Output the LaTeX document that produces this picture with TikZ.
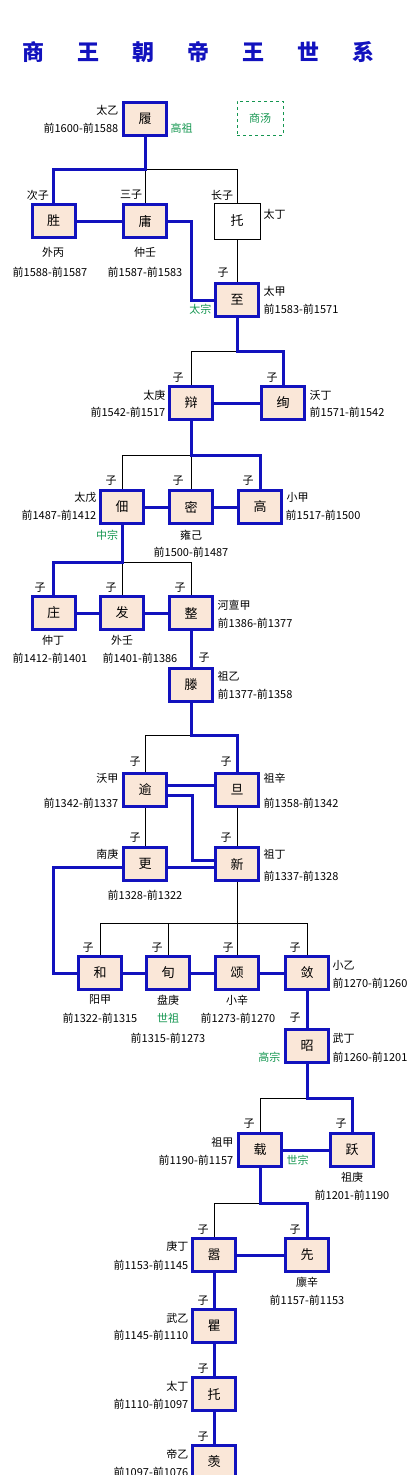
\documentclass[tikz,border=0pt]{standalone}
\usepackage{fontspec}
\newfontfamily\cjk{Noto Sans CJK SC}
\usetikzlibrary{backgrounds}
\definecolor{kblue}{RGB}{18,18,190}
\definecolor{kfill}{RGB}{250,231,216}
\definecolor{hgreen}{RGB}{20,150,80}
\tikzset{
  king/.style={draw=kblue, line width=3pt, fill=kfill, minimum width=43pt, minimum height=33pt, inner sep=0pt, font=\cjk\fontsize{13}{13}\selectfont},
  plainking/.style={draw=black, line width=0.8pt, fill=white, minimum width=46pt, minimum height=36pt, inner sep=0pt, font=\cjk\fontsize{13}{13}\selectfont},
  lbl/.style={inner sep=0.5pt, font=\cjk\fontsize{11}{11}\selectfont},
  hao/.style={lbl, text=hgreen},
  heir/.style={draw=kblue, line width=3pt},
  kin/.style={draw=black, line width=0.8pt},
}

\begin{document}
\begin{tikzpicture}[x=1pt, y=-1pt]
    \useasboundingbox (0,0) rectangle (417,1475);
    % 标题
    \foreach \c [count=\i] in {商,王,朝,帝,王,世,系}
        \node[font=\cjk\bfseries\fontsize{22}{22}\selectfont, text=kblue] (title\i) at ({33+55*(\i-1)},52) {\c};
    \node[draw=hgreen, dashed, line width=0.8pt, minimum width=46pt, minimum height=34pt, hao] (tang) at (260,118) {商汤};
    % 世系方框
    \node[king] (lu) at (145,119) {履};
    \node[king] (sheng) at (53.5,221) {胜};
    \node[king] (yong) at (145,221) {庸};
    \node[plainking] (tuo) at (237,221) {托};
    \node[king] (zhi) at (237,300) {至};
    \node[king] (bian) at (191,403) {辩};
    \node[king] (xuan) at (283,403) {绚};
    \node[king] (dian) at (122,507) {佃};
    \node[king] (mi) at (191,507) {密};
    \node[king] (gao) at (260,507) {高};
    \node[king] (zhuang) at (53.5,613) {庄};
    \node[king] (fa) at (122,613) {发};
    \node[king] (zheng) at (191,613) {整};
    \node[king] (teng) at (191,685) {滕};
    \node[king] (yu) at (145,790) {逾};
    \node[king] (dan) at (237,790) {旦};
    \node[king] (geng) at (145,864) {更};
    \node[king] (xin) at (237,864) {新};
    \node[king] (he) at (100,973) {和};
    \node[king] (xun) at (168,973) {旬};
    \node[king] (song) at (237,973) {颂};
    \node[king] (lian) at (307,973) {敛};
    \node[king] (zhao) at (307,1046) {昭};
    \node[king] (zai) at (260,1150) {载};
    \node[king] (yue) at (352,1150) {跃};
    \node[king] (xiao) at (214,1255) {嚣};
    \node[king] (xian) at (307,1255) {先};
    \node[king] (qu) at (214,1326) {瞿};
    \node[king] (tuob) at (214,1394) {托};
    \node[king] (xianb) at (214,1462) {羡};
    % 庙号、年代
    \node[lbl, anchor=east] (lu-n) at (119,110) {太乙};
    \node[lbl, anchor=east] (lu-y) at (119,128) {前1600-前1588};
    \node[hao, anchor=west] (lu-h) at (170,128) {高祖};
    \node[lbl] (sheng-r) at (38,195) {次子};
    \node[lbl] (sheng-n) at (53,252) {外丙};
    \node[lbl] (sheng-y) at (50,272) {前1588-前1587};
    \node[lbl] (yong-r) at (131,195) {三子};
    \node[lbl] (yong-n) at (145,252) {仲壬};
    \node[lbl] (yong-y) at (145,272) {前1587-前1583};
    \node[lbl] (tuo-r) at (222,195) {长子};
    \node[lbl, anchor=west] (tuo-n) at (263,214) {太丁};
    \node[lbl] (zhi-r) at (223,273) {子};
    \node[lbl, anchor=west] (zhi-n) at (263,291) {太甲};
    \node[lbl, anchor=west] (zhi-y) at (263,309) {前1583-前1571};
    \node[hao, anchor=east] (zhi-h) at (212,309) {太宗};
    \node[lbl] (bian-r) at (178,378) {子};
    \node[lbl, anchor=east] (bian-n) at (166,395) {太庚};
    \node[lbl, anchor=east] (bian-y) at (166,412) {前1542-前1517};
    \node[lbl] (xuan-r) at (272,378) {子};
    \node[lbl, anchor=west] (xuan-n) at (309,395) {沃丁};
    \node[lbl, anchor=west] (xuan-y) at (309,412) {前1571-前1542};
    \node[lbl] (dian-r) at (111,481) {子};
    \node[lbl, anchor=east] (dian-n) at (97,497) {太戊};
    \node[lbl, anchor=east] (dian-y) at (97,515) {前1487-前1412};
    \node[hao] (dian-h) at (107,535) {中宗};
    \node[lbl] (mi-r) at (178,481) {子};
    \node[lbl] (mi-n) at (191,535) {雍己};
    \node[lbl] (mi-y) at (191,552) {前1500-前1487};
    \node[lbl] (gao-r) at (248,481) {子};
    \node[lbl, anchor=west] (gao-n) at (286,497) {小甲};
    \node[lbl, anchor=west] (gao-y) at (285,515) {前1517-前1500};
    \node[lbl] (zhuang-r) at (40,588) {子};
    \node[lbl] (zhuang-n) at (53,640) {仲丁};
    \node[lbl] (zhuang-y) at (50,658) {前1412-前1401};
    \node[lbl] (fa-r) at (111,588) {子};
    \node[lbl] (fa-n) at (122,640) {外壬};
    \node[lbl] (fa-y) at (140,658) {前1401-前1386};
    \node[lbl] (zheng-r) at (180,588) {子};
    \node[lbl, anchor=west] (zheng-n) at (217,605) {河亶甲};
    \node[lbl, anchor=west] (zheng-y) at (217,623) {前1386-前1377};
    \node[lbl] (teng-r) at (204,658) {子};
    \node[lbl, anchor=west] (teng-n) at (217,676) {祖乙};
    \node[lbl, anchor=west] (teng-y) at (217,694) {前1377-前1358};
    \node[lbl] (yu-r) at (135,762) {子};
    \node[lbl, anchor=east] (yu-n) at (119,778) {沃甲};
    \node[lbl, anchor=east] (yu-y) at (119,803) {前1342-前1337};
    \node[lbl] (dan-r) at (226,762) {子};
    \node[lbl, anchor=west] (dan-n) at (263,778) {祖辛};
    \node[lbl, anchor=west] (dan-y) at (263,803) {前1358-前1342};
    \node[lbl] (geng-r) at (135,838) {子};
    \node[lbl, anchor=east] (geng-n) at (119,854) {南庚};
    \node[lbl] (geng-y) at (145,895) {前1328-前1322};
    \node[lbl] (xin-r) at (226,838) {子};
    \node[lbl, anchor=west] (xin-n) at (263,854) {祖丁};
    \node[lbl, anchor=west] (xin-y) at (263,876) {前1337-前1328};
    \node[lbl] (he-r) at (88,948) {子};
    \node[lbl] (he-n) at (100,1000) {阳甲};
    \node[lbl] (he-y) at (100,1018) {前1322-前1315};
    \node[lbl] (xun-r) at (157,948) {子};
    \node[lbl] (xun-n) at (168,1000) {盘庚};
    \node[hao] (xun-h) at (168,1018) {世祖};
    \node[lbl] (xun-y) at (168,1038) {前1315-前1273};
    \node[lbl] (song-r) at (228,948) {子};
    \node[lbl] (song-n) at (237,1000) {小辛};
    \node[lbl] (song-y) at (238,1018) {前1273-前1270};
    \node[lbl] (lian-r) at (295,948) {子};
    \node[lbl, anchor=west] (lian-n) at (332,965) {小乙};
    \node[lbl, anchor=west] (lian-y) at (332,983) {前1270-前1260};
    \node[lbl] (zhao-r) at (295,1018) {子};
    \node[lbl, anchor=west] (zhao-n) at (332,1038) {武丁};
    \node[lbl, anchor=west] (zhao-y) at (332,1057) {前1260-前1201};
    \node[hao, anchor=east] (zhao-h) at (281,1057) {高宗};
    \node[lbl] (zai-r) at (249,1124) {子};
    \node[lbl, anchor=east] (zai-n) at (234,1142) {祖甲};
    \node[lbl, anchor=east] (zai-y) at (234,1160) {前1190-前1157};
    \node[hao, anchor=west] (zai-h) at (286,1160) {世宗};
    \node[lbl] (yue-r) at (341,1124) {子};
    \node[lbl] (yue-n) at (352,1177) {祖庚};
    \node[lbl] (yue-y) at (352,1195) {前1201-前1190};
    \node[lbl] (xiao-r) at (203,1230) {子};
    \node[lbl, anchor=east] (xiao-n) at (189,1246) {庚丁};
    \node[lbl, anchor=east] (xiao-y) at (189,1265) {前1153-前1145};
    \node[lbl] (xian-r) at (295,1230) {子};
    \node[lbl] (xian-n) at (307,1282) {廪辛};
    \node[lbl] (xian-y) at (307,1300) {前1157-前1153};
    \node[lbl] (qu-r) at (203,1301) {子};
    \node[lbl, anchor=east] (qu-n) at (189,1318) {武乙};
    \node[lbl, anchor=east] (qu-y) at (189,1335) {前1145-前1110};
    \node[lbl] (tuob-r) at (203,1369) {子};
    \node[lbl, anchor=east] (tuob-n) at (189,1386) {太丁};
    \node[lbl, anchor=east] (tuob-y) at (189,1404) {前1110-前1097};
    \node[lbl] (xianb-r) at (203,1437) {子};
    \node[lbl, anchor=east] (xianb-n) at (189,1454) {帝乙};
    \node[lbl, anchor=east] (xianb-y) at (189,1472) {前1097-前1076};
    % 连线
    \coordinate (j1) at (145,169);
    \coordinate (j2) at (237,351);
    \coordinate (j3) at (191,455);
    \coordinate (j4) at (122,562);
    \coordinate (j5) at (191,735);
    \coordinate (j6) at (237,923);
    \coordinate (j7) at (307,1098);
    \coordinate (j8) at (260,1203);
    \coordinate (k1) at (191,260);
    \coordinate (k2) at (192,830);
    \coordinate (k3) at (53.5,920);
    \begin{scope}[on background layer]
        \draw[kin] (j1) -- (yong);
        \draw[kin] (j1) -| (tuo);
        \draw[kin] (tuo) -- (zhi);
        \draw[kin] (j2) -| (bian);
        \draw[kin] (j3) -| (dian);
        \draw[kin] (j3) -- (mi);
        \draw[kin] (j4) -- (fa);
        \draw[kin] (j4) -| (zheng);
        \draw[kin] (j5) -| (yu);
        \draw[kin] (yu) -- (geng);
        \draw[kin] (dan) -- (xin);
        \draw[kin] (xin) -- (j6) -| (he);
        \draw[kin] (j6) -| (lian);
        \draw[kin] (xun) |- (j6);
        \draw[kin] (j6) -- (song);
        \draw[kin] (j7) -| (zai);
        \draw[kin] (j8) -| (xiao);
        \draw[heir] (lu) -- (j1) -| (sheng);
        \draw[heir] (sheng) -- (yong);
        \draw[heir] (yong) -| (k1) |- (zhi);
        \draw[heir] (zhi) -- (j2) -| (xuan);
        \draw[heir] (bian) -- (xuan);
        \draw[heir] (bian) -- (j3) -| (gao);
        \draw[heir] (dian) -- (mi) -- (gao);
        \draw[heir] (dian) -- (j4) -| (zhuang);
        \draw[heir] (zhuang) -- (fa) -- (zheng);
        \draw[heir] (zheng) -- (teng);
        \draw[heir] (teng) -- (j5) -| (dan);
        \draw[heir] ([yshift=5pt]yu.east) -- ([yshift=5pt]dan.west);
        \draw[heir] ([yshift=-5pt]yu.east) -| (k2) |- ([yshift=4pt]xin.west);
        \draw[heir] ([yshift=-3pt]geng.east) -- ([yshift=-3pt]xin.west);
        \draw[heir] ([yshift=-3pt]geng.west) -| (k3) |- (he);
        \draw[heir] (he) -- (xun) -- (song) -- (lian);
        \draw[heir] (lian) -- (zhao);
        \draw[heir] (zhao) -- (j7) -| (yue);
        \draw[heir] (zai) -- (yue);
        \draw[heir] (zai) -- (j8) -| (xian);
        \draw[heir] (xiao) -- (xian);
        \draw[heir] (xiao) -- (qu) -- (tuob) -- (xianb);
    \end{scope}
\end{tikzpicture}
\end{document}
